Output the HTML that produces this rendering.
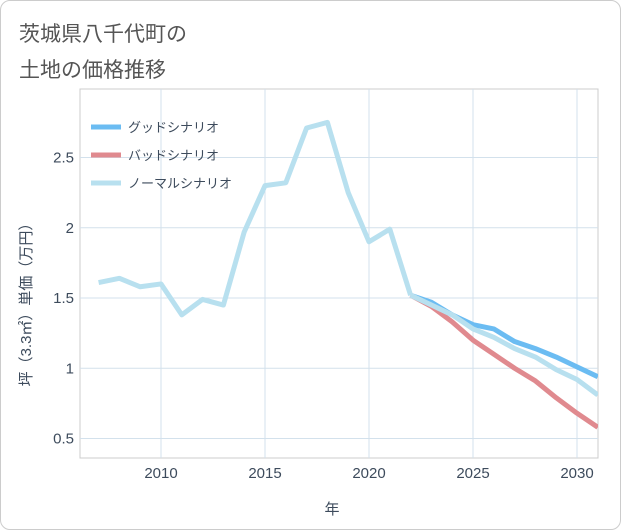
<!DOCTYPE html>
<html><head><meta charset="utf-8"><style>
body{margin:0;background:#fff;font-family:"Liberation Sans","Noto Sans CJK JP",sans-serif;}
#wrap{position:relative;width:619px;height:528px;border:1px solid #ccc;border-radius:10px;overflow:hidden;background:#fff}
</style></head><body>
<div id="wrap">
<svg id="chart" width="619" height="528" style="font-family:'Liberation Sans','Noto Sans CJK JP',sans-serif">
<text x="18" y="40" font-size="21" fill="#555">茨城県八千代町の</text>
<text x="18" y="76" font-size="21" fill="#555">土地の価格推移</text>
<g id="grid"></g><g id="marks"></g><g id="legend"></g>
<text x="331" y="513" font-size="15" fill="#3d4b5c" text-anchor="middle">年</text>
<text transform="translate(30,300) rotate(-90)" font-size="15" fill="#3d4b5c" text-anchor="middle">坪（3.3㎡）単価（万円）</text>
</svg></div>
<script>
const years=[2007,2008,2009,2010,2011,2012,2013,2014,2015,2016,2017,2018,2019,2020,2021,2022,2023,2024,2025,2026,2027,2028,2029,2030,2031];
const historical=[1.61,1.64,1.58,1.60,1.38,1.49,1.45,1.97,2.30,2.32,2.71,2.75,2.25,1.90,1.99,1.52];
const goodFuture=[1.52,1.47,1.38,1.31,1.28,1.19,1.14,1.08,1.01,0.94];
const badFuture=[1.52,1.44,1.33,1.20,1.10,1.00,0.91,0.79,0.68,0.58];
const normalFuture=[1.52,1.45,1.38,1.28,1.22,1.14,1.08,0.99,0.92,0.81];
const xTicks=[2010,2015,2020,2025,2030];
const yTicks=[0.5,1,1.5,2,2.5];
const legendLabels=["グッドシナリオ","バッドシナリオ","ノーマルシナリオ"];
const L=79,R=597,T=88,B=457;
const xs=y=>160+(y-2010)*20.8;
const ys=v=>297-(v-1.5)*140.5;
const NS="http://www.w3.org/2000/svg";
function mk(tag,attrs,parent){const e=document.createElementNS(NS,tag);for(const k in attrs)e.setAttribute(k,attrs[k]);parent.appendChild(e);return e;}
const grid=document.getElementById('grid'),marks=document.getElementById('marks'),leg=document.getElementById('legend');
const frame=mk('rect',{x:L,y:T,width:R-L,height:B-T,fill:'none',stroke:'#ccc'},grid);


xTicks.forEach(t=>{const l=mk('line',{x1:xs(t),x2:xs(t),y1:T,y2:B,stroke:'#d3e1ec'},grid);


const tx=mk('text',{x:xs(t),y:B+20,'font-size':15,fill:'#3d4b5c','text-anchor':'middle'},grid);tx.textContent=t;

});
yTicks.forEach(t=>{const l=mk('line',{x1:L,x2:R,y1:ys(t),y2:ys(t),stroke:'#d3e1ec'},grid);


const tx=mk('text',{x:L-6,y:ys(t)+5,'font-size':15,fill:'#3d4b5c','text-anchor':'end'},grid);tx.textContent=t;

});
const cp=mk('clipPath',{id:'cp'},marks);mk('rect',{x:L,y:T,width:R-L,height:B-T},cp);
function line(vals,start,color,name){const pts=vals.map((v,i)=>xs(years[start+i])+','+ys(v)).join(' ');
const p=mk('polyline',{points:pts,fill:'none',stroke:color,'stroke-width':5,'stroke-linejoin':'round','clip-path':'url(#cp)'},marks);

}
const fs=historical.length-1;
line(goodFuture,fs,'#6bbcf2','good-scenario-line');
line(badFuture,fs,'#e08a8f','bad-scenario-line');
line(normalFuture,fs,'#b8e0ef','normal-scenario-line');
line(historical,0,'#b8e0ef','historical-line');
const cols=['#6bbcf2','#e08a8f','#b8e0ef'];
legendLabels.forEach((s,i)=>{const y=126+i*28;
const l=mk('line',{x1:90,x2:120,y1:y,y2:y,stroke:cols[i],'stroke-width':5},leg);


const t=mk('text',{x:127,y:y+5,'font-size':13,fill:'#3d4b5c'},leg);t.textContent=s;

});
</script></body></html>
